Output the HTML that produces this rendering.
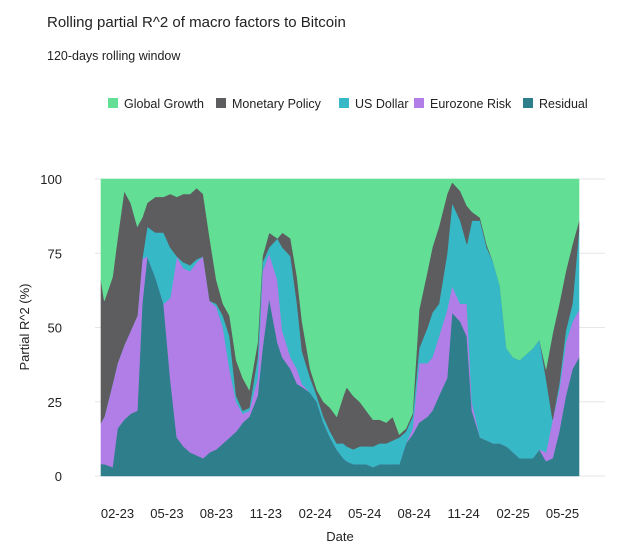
<!DOCTYPE html>
<html><head><meta charset="utf-8"><style>
body{margin:0;background:#fff;font-family:"Liberation Sans",sans-serif;}
svg text{font-family:"Liberation Sans",sans-serif;}
</style></head><body>
<svg id="chart" width="625" height="553" viewBox="0 0 625 553">
<text x="47" y="27" font-size="15" fill="#222">Rolling partial R^2 of macro factors to Bitcoin</text>
<text x="47" y="60" font-size="12.5" fill="#222">120-days rolling window</text>
<g id="legend"></g>
<g id="grid"></g>
<g id="areas"></g>
<g id="yaxis"></g>
<g id="xaxis"></g>
<text x="0" y="0" font-size="13" fill="#222" text-anchor="middle" transform="translate(29,327) rotate(-90)">Partial R^2 (%)</text>
<text x="340" y="541" font-size="13" fill="#222" text-anchor="middle">Date</text>
</svg>
<script>
// months since Jan 2023
const months = [0,0.2,0.7,1.0,1.4,1.8,2.2,2.5,2.8,3.3,3.8,4.2,4.6,5.0,5.4,5.8,6.2,6.6,7.0,7.4,7.8,8.2,8.6,9.0,9.5,9.8,10.2,10.7,11.0,11.5,11.9,12.2,12.7,13.1,13.5,13.9,14.3,14.7,14.9,15.3,15.7,16.1,16.5,16.9,17.3,17.7,18.1,18.5,18.9,19.3,19.8,20.1,20.5,21.0,21.3,21.8,22.2,22.5,23.0,23.4,23.8,24.2,24.6,25.0,25.4,25.8,26.2,26.6,27.0,27.4,27.8,28.2,28.6,29.0];
const residual = [4,4,3,16,19,21,22,58,74,67,58,33,13,10,8,7,6,8,9,11,13,15,18,20,27,43,60,45,40,36,31,30,28,25,18,13,9,6,5,4,4,4,3,4,4,4,4,11,14,18,20,22,27,33,55,52,47,22,13,12,11,11,10,8,6,6,6,9,5,6,15,27,36,40];
const eurozone = [14,16,28,22,25,28,32,15,0,0,0,27,61,60,61,65,68,51,48,39,23,10,3,2,6,26,15,21,9,4,5,1,0,0,0,0,0,0,0,0,0,0,0,0,0,0,0,0,2,20,18,18,20,23,9,6,11,3,0,0,0,0,0,0,0,0,0,0,3,13,14,18,16,16];
const usDollar = [0,0,0,0,0,0,0,0,10,15,24,17,0,2,2,1,0,0,1,4,11,2,1,1,7,3,2,14,28,34,22,11,5,2,2,2,2,5,5,5,6,6,7,7,7,8,9,4,4,5,12,15,11,19,28,28,20,61,73,65,61,53,33,32,33,35,37,37,25,0,2,4,6,27];
const monetary = [48,39,36,42,52,43,30,14,8,12,12,18,20,23,24,24,21,21,8,4,7,12,11,6,5,2,5,0,5,6,9,10,3,2,5,8,9,16,20,18,15,12,9,8,7,8,1,1,1,13,19,22,26,20,7,10,13,3,1,1,0,0,0,0,0,0,0,0,3,29,27,20,20,3];
const seriesNames = ["Residual","Eurozone Risk","US Dollar","Monetary Policy","Global Growth"];
const yTicks = [0,25,50,75,100];
const xTickMonths = [1,4,7,10,13,16,19,22,25,28];
const xTickLabels = ["02-23","05-23","08-23","11-23","02-24","05-24","08-24","11-24","02-25","05-25"];

const colors = ["#2e7f8b","#b07ee6","#37b8c6","#5d5d5f","#62df95"];
const X0=101, X1=579, Y0=476, Y1=179, M0=0, M1=29;
const xs = m => X0 + (m-M0)/(M1-M0)*(X1-X0);
const ys = v => Y0 - v/100*(Y0-Y1);
const NS="http://www.w3.org/2000/svg";
function mk(tag, attrs, parent){const e=document.createElementNS(NS,tag);for(const k in attrs)e.setAttribute(k,attrs[k]);parent.appendChild(e);return e;}

const grid=document.getElementById('grid'), yax=document.getElementById('yaxis'), xax=document.getElementById('xaxis');
yTicks.forEach(t=>{
  const l=mk('line',{x1:95,x2:605,y1:ys(t),y2:ys(t),stroke:'#e6e6e6','stroke-width':1},grid);
  
  
  const tx=mk('text',{x:62,y:ys(t)+5,'font-size':13,fill:'#222','text-anchor':'end'},yax);
  tx.textContent=t;
  
  
});
xTickMonths.forEach((m,i)=>{
  const tx=mk('text',{x:xs(m),y:518,'font-size':13,fill:'#222','text-anchor':'middle'},xax);
  tx.textContent=xTickLabels[i];
  
  
});

const areas=document.getElementById('areas');
const stacks=[residual,eurozone,usDollar,monetary];
let base=months.map(()=>0);
const layers=[];
stacks.forEach(s=>{const top=base.map((b,i)=>b+s[i]);layers.push([base,top]);base=top;});
layers.push([base,months.map(()=>100)]);
// draw from top layer down so lower ones sit on top
layers.forEach((ly,k)=>{
  const [lo,hi]=ly;
  let d='M'+months.map((m,i)=>xs(m).toFixed(1)+','+ys(hi[i]).toFixed(1)).join('L');
  for(let i=months.length-1;i>=0;i--) d+='L'+xs(months[i]).toFixed(1)+','+ys(lo[i]).toFixed(1);
  d+='Z';
  const p=mk('path',{d:d,fill:colors[k],stroke:colors[k],'stroke-width':0.6},areas);
  
  
});

const legend=document.getElementById('legend');
const legOrder=[4,3,2,1,0];
const legX=[108,216,339,414,523];
legOrder.forEach((k,i)=>{
  const r=mk('rect',{x:legX[i],y:98,width:10,height:10,fill:colors[k]},legend);
  
  
  const t=mk('text',{x:legX[i]+16,y:108,'font-size':12.5,fill:'#222'},legend);
  t.textContent=seriesNames[k];
  
  
});
</script>
</body></html>
